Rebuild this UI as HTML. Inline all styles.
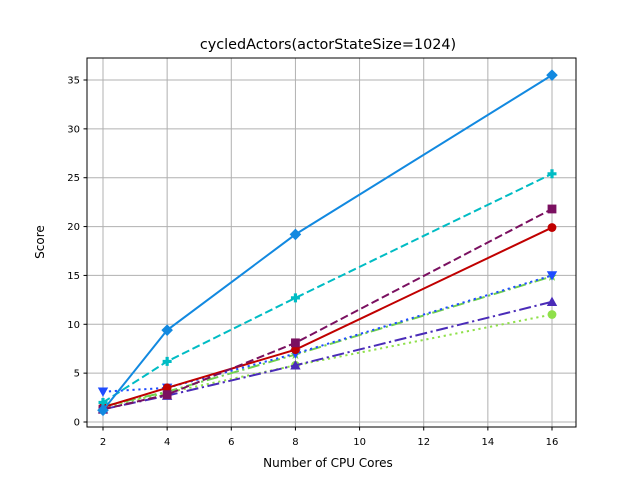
<!DOCTYPE html>
<html><head><meta charset="utf-8"><style>
body{margin:0;background:#fff;font-family:"Liberation Sans","DejaVu Sans",sans-serif}
text{font-family:"DejaVu Sans","Liberation Sans",sans-serif}
</style></head><body>
<svg id="c" width="640" height="480" xmlns="http://www.w3.org/2000/svg">
<rect width="640" height="480" fill="#fff"/>
<g id="grid"></g>
<g id="series"></g>
<rect x="87" y="58" width="489" height="369" fill="none" stroke="#000" stroke-width="1"/>
<g id="ticks"></g>
<text x="328" y="49" text-anchor="middle" font-size="14.4">cycledActors(actorStateSize=1024)</text>
<text x="328" y="467" text-anchor="middle" font-size="12">Number of CPU Cores</text>
<text x="44" y="242" text-anchor="middle" font-size="12" transform="rotate(-90 44 242)">Score</text>
</svg>
<script>
const cores=[2,4,8,16];
const xTicks=[2,4,6,8,10,12,14,16];
const yTicks=[0,5,10,15,20,25,30,35];
const sBlue=[1.2,9.4,19.2,35.5];
const sCyan=[2.0,6.2,12.7,25.4];
const sPurple=[1.3,2.8,8.1,21.8];
const sRed=[1.5,3.5,7.4,19.9];
const sBlueDot=[3.1,3.5,7.0,15.0];
const sGreen=[1.6,3.1,6.9,14.9];
const sIndigo=[1.3,2.7,5.8,12.3];
const sLime=[1.5,3.0,5.8,11.0];
const NS="http://www.w3.org/2000/svg";
const X=v=>103+(v-2)*(552-103)/14;
const Y=v=>422-v*(422-80)/35;
function mk(t,a,p){const e=document.createElementNS(NS,t);for(const k in a)e.setAttribute(k,a[k]);p.appendChild(e);return e;}
const grid=document.getElementById('grid'),ticks=document.getElementById('ticks'),ser=document.getElementById('series');
xTicks.forEach(v=>{
 const g=mk('line',{x1:X(v),x2:X(v),y1:58,y2:427,stroke:'#b0b0b0','stroke-width':1},grid);
 
 
 const t=mk('line',{x1:X(v),x2:X(v),y1:427,y2:430.5,stroke:'#000'},ticks);
 
 
 const l=mk('text',{x:X(v),y:445,'text-anchor':'middle','font-size':10},ticks);l.textContent=v;
 
 
});
yTicks.forEach(v=>{
 const g=mk('line',{x1:87,x2:576,y1:Y(v),y2:Y(v),stroke:'#b0b0b0','stroke-width':1},grid);
 
 
 const t=mk('line',{x1:83.5,x2:87,y1:Y(v),y2:Y(v),stroke:'#000'},ticks);
 
 
 const l=mk('text',{x:80,y:Y(v)+3.5,'text-anchor':'end','font-size':10},ticks);l.textContent=v;
 
 
});
const defs=[
 ['lime',sLime,'#8fe04a','2.2 3.7','o'],
 ['indigo',sIndigo,'#4a2bb8','12 3.6 2.2 3.6','^'],
 ['green',sGreen,'#6fd050','12 3.6 2.2 3.6','*'],
 ['bluedot',sBlueDot,'#1f4cff','2.2 3.7','v'],
 ['red',sRed,'#c00000','','o'],
 ['purple',sPurple,'#7a1060','8 3.6','s'],
 ['cyan',sCyan,'#00bcc4','8 3.6','P'],
 ['blue',sBlue,'#1289e0','','D']
];
function marker(k,x,y,c,g){
 let e;
 if(k==='o')e=mk('circle',{cx:x,cy:y,r:4.4,fill:c},g);
 else if(k==='s')e=mk('rect',{x:x-4.4,y:y-4.4,width:8.8,height:8.8,fill:c},g);
 else if(k==='D')e=mk('polygon',{points:`${x},${y-5.8} ${x+5.8},${y} ${x},${y+5.8} ${x-5.8},${y}`,fill:c},g);
 else if(k==='^')e=mk('polygon',{points:`${x},${y-5.2} ${x+5.2},${y+4.2} ${x-5.2},${y+4.2}`,fill:c},g);
 else if(k==='v')e=mk('polygon',{points:`${x},${y+5.2} ${x+5.2},${y-4.2} ${x-5.2},${y-4.2}`,fill:c},g);
 else if(k==='P')e=mk('path',{d:`M${x-1.6},${y-4.5}h3.2v2.9h2.9v3.2h-2.9v2.9h-3.2v-2.9h-2.9v-3.2h2.9z`,fill:c},g);
 else e=mk('polygon',{points:`${x},${y-5} ${x+1.3},${y-1.5} ${x+4.8},${y-1.5} ${x+2},${y+0.8} ${x+3},${y+4.5} ${x},${y+2.3} ${x-3},${y+4.5} ${x-2},${y+0.8} ${x-4.8},${y-1.5} ${x-1.3},${y-1.5}`,fill:c},g);
 
 
}
defs.forEach(([n,d,c,dash,m])=>{
 const g=mk('g',{},ser);
 
 
 const pl=mk('polyline',{points:cores.map((v,i)=>X(v)+','+Y(d[i])).join(' '),fill:'none',stroke:c,'stroke-width':2,'stroke-dasharray':dash},g);
 
 
 cores.forEach((v,i)=>marker(m,X(v),Y(d[i]),c,g));
});
</script>
</body></html>
